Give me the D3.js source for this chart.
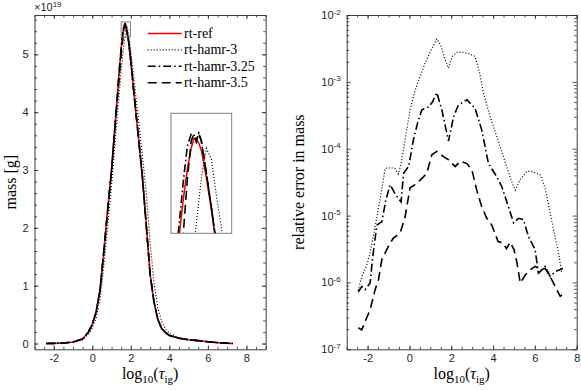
<!DOCTYPE html>
<html>
<head>
<meta charset="utf-8">
<script src="https://cdn.jsdelivr.net/npm/d3@7"></script>
<style>
    body { margin: 0; background: #fff; }
    .tick text { font-family: "Liberation Sans", Arial, sans-serif; font-size: 11px; fill: #262626; }
    .tick line, .domain { stroke: #262626; }
    .serif { font-family: "Liberation Serif", "Times New Roman", serif; fill: #000; }
</style>
</head>
<body>
<svg id="chart" width="581" height="390"></svg>
<script>
// --- data: left panel, mass (units of 1e19 g) vs log10(tau_ig) ---
const tauGrid = [-2.4, -2, -1.5, -1, -0.5, -0.2, 0, 0.2, 0.4, 0.6, 0.8, 1, 1.2, 1.4, 1.5, 1.55, 1.6, 1.63, 1.66, 1.68,
    1.7, 1.72, 1.74, 1.78, 1.82, 1.86, 1.9, 2, 2.2, 2.4, 2.6, 2.8, 3, 3.2, 3.4, 3.6, 3.8, 4, 4.5, 5, 5.5, 6, 6.5, 7, 7.3];
const massRef = [0, 0.003, 0.01, 0.025, 0.08, 0.2, 0.33, 0.55, 0.92, 1.6, 2.32, 3.0, 3.85, 4.72, 5.10, 5.26, 5.38, 5.44, 5.485, 5.505,
    5.505, 5.495, 5.48, 5.42, 5.35, 5.27, 5.18, 4.88, 4.2, 3.55, 2.88, 2.05, 1.2, 0.72, 0.42, 0.26, 0.19, 0.14, 0.09, 0.065, 0.05, 0.03, 0.015, 0.005, 0];
const massHamr3 = [0, 0.002, 0.008, 0.02, 0.065, 0.16, 0.27, 0.45, 0.76, 1.35, 2.05, 2.75, 3.55, 4.35, 4.72, 4.90, 5.05, 5.14, 5.22, 5.27,
    5.32, 5.37, 5.42, 5.484, 5.46, 5.38, 5.31, 5.05, 4.45, 3.85, 3.25, 2.6, 1.75, 1.05, 0.62, 0.38, 0.25, 0.18, 0.10, 0.07, 0.05, 0.03, 0.015, 0.005, 0];
const massHamr325 = [0, 0.003, 0.01, 0.025, 0.08, 0.2, 0.33, 0.55, 0.92, 1.6, 2.32, 3.0, 3.85, 4.74, 5.12, 5.28, 5.42, 5.49, 5.515, 5.515,
    5.498, 5.517, 5.50, 5.43, 5.355, 5.275, 5.185, 4.88, 4.2, 3.55, 2.88, 2.05, 1.2, 0.72, 0.42, 0.26, 0.19, 0.14, 0.09, 0.065, 0.05, 0.03, 0.015, 0.005, 0];
const massHamr35 = [0, 0.003, 0.01, 0.025, 0.08, 0.2, 0.33, 0.55, 0.92, 1.6, 2.32, 3.0, 3.85, 4.62, 5.0, 5.17, 5.31, 5.42, 5.50, 5.515,
    5.50, 5.517, 5.50, 5.43, 5.355, 5.275, 5.185, 4.88, 4.2, 3.55, 2.88, 2.05, 1.2, 0.72, 0.42, 0.26, 0.19, 0.14, 0.09, 0.065, 0.05, 0.03, 0.015, 0.005, 0];

// --- data: right panel, relative error in mass ---
const errTauHamr3 = [-2.45, -2.28, -2.05, -1.88, -1.64, -1.4, -1.16, -0.9, -0.7, -0.53, -0.4, -0.2, 0.03, 0.25, 0.51, 0.75, 0.99, 1.15,
    1.31, 1.5, 1.7, 1.87, 2.05, 2.3, 2.6, 2.9, 3.14, 3.35, 3.54, 3.8, 4.05, 4.34, 4.6, 4.85, 5.06, 5.3, 5.62, 5.9, 6.25, 6.5, 6.73, 6.95, 7.13, 7.29];
const errHamr3 = [7.6e-7, 1.23e-6, 1.78e-6, 2.75e-6, 6.9e-6, 1.78e-5, 5.1e-5, 5.2e-5, 5.1e-5, 4.2e-5, 6.0e-5, 1.41e-4, 3.8e-4, 7.1e-4,
    1.2e-3, 1.9e-3, 2.8e-3, 3.5e-3, 4.4e-3, 3.5e-3, 2.2e-3, 1.6e-3, 2.4e-3, 2.8e-3, 2.75e-3, 2.6e-3, 2.4e-3, 1.4e-3, 6.8e-4, 3.5e-4,
    2.0e-4, 1.07e-4, 6.0e-5, 3.5e-5, 2.4e-5, 3.5e-5, 4.6e-5, 4.5e-5, 4.1e-5, 2.5e-5, 1.1e-5, 5.0e-6, 2.75e-6, 1.38e-6];
const errTauHamr325 = [-2.45, -2.28, -2.12, -1.88, -1.77, -1.56, -1.32, -1.13, -0.92, -0.68, -0.4, -0.28, -0.04, 0.19, 0.4, 0.59, 0.91,
    1.1, 1.31, 1.55, 1.87, 2.11, 2.34, 2.75, 3.14, 3.46, 3.78, 4.18, 4.42, 4.66, 4.98, 5.22, 5.45, 5.69, 6.01, 6.17, 6.25, 6.49, 6.73, 6.97, 7.34];
const errHamr325 = [7.2e-7, 8.7e-7, 7.8e-7, 9.8e-7, 2.2e-6, 7.2e-6, 8.1e-6, 1.7e-5, 2.9e-5, 2.1e-5, 1.6e-5, 4.3e-5, 5.4e-5, 1.35e-4,
    2.5e-4, 3.8e-4, 4.2e-4, 5.0e-4, 6.9e-4, 3.8e-4, 1.3e-4, 3.0e-4, 4.5e-4, 5.4e-4, 4.0e-4, 1.9e-4, 6.0e-5, 3.8e-5, 2.7e-5, 1.6e-5,
    7.8e-6, 9.1e-6, 8.7e-6, 4.9e-6, 3.1e-6, 1.38e-6, 1.45e-6, 1.74e-6, 1.23e-6, 1.45e-6, 1.62e-6];
const errTauHamr35 = [-2.45, -2.28, -2.12, -1.88, -1.64, -1.48, -1.32, -1.0, -0.77, -0.44, -0.21, 0.03, 0.27, 0.51, 0.67, 0.83, 1.07,
    1.31, 1.63, 1.87, 2.19, 2.43, 2.75, 2.99, 3.22, 3.46, 3.7, 3.94, 4.24, 4.48, 4.64, 4.82, 5.0, 5.14, 5.3, 5.54, 5.78, 6.01, 6.25,
    6.49, 6.73, 6.97, 7.21, 7.37];
const errHamr35 = [2.1e-7, 1.95e-7, 2.6e-7, 3.9e-7, 7.8e-7, 1.1e-6, 2.2e-6, 3.5e-6, 4.6e-6, 5.5e-6, 9.5e-6, 2.6e-5, 2.9e-5, 3.4e-5,
    3.8e-5, 4.3e-5, 8.1e-5, 9.1e-5, 7.6e-5, 6.8e-5, 5.4e-5, 6.5e-5, 6.0e-5, 4.8e-5, 2.4e-5, 1.35e-5, 9.1e-6, 7.2e-6, 4.1e-6, 3.9e-6,
    3.2e-6, 4.0e-6, 3.1e-6, 2.0e-6, 9.8e-7, 1.29e-6, 1.55e-6, 1.74e-6, 1.55e-6, 1.62e-6, 1.23e-6, 8.7e-7, 6.2e-7, 6.8e-7];

// tick values
const xMajorTicks = [-2, 0, 2, 4, 6, 8];
const massTicks = [0, 1, 2, 3, 4, 5];
const errTicks = [1e-7, 1e-6, 1e-5, 1e-4, 1e-3, 1e-2];

const seriesNames = ["rt-ref", "rt-hamr-3", "rt-hamr-3.25", "rt-hamr-3.5"];
const seriesStyle = {
    "rt-ref": { color: "#ff0000", width: 1.6, dash: null },
    "rt-hamr-3": { color: "#000", width: 1.2, dash: "1,2" },
    "rt-hamr-3.25": { color: "#000", width: 1.6, dash: "8,3,1.5,3" },
    "rt-hamr-3.5": { color: "#000", width: 1.6, dash: "9,5" },
};

const svg = d3.select("#chart");

// --- helpers ---
function frame(g, x, y, yTicks, xMinor, yMinor, yFormat) {
    const [xl, xr] = x.range();
    const [yb, yt] = y.range();
    const major = 4, minor = 2.5;

    g.append("g").attr("transform", `translate(0,${yb})`)
        .call(d3.axisBottom(x).tickValues(xMajorTicks).tickSize(-major).tickSizeOuter(0).tickPadding(5).tickFormat((d) => String(d)));
    g.append("g").attr("transform", `translate(0,${yt})`)
        .call(d3.axisTop(x).tickValues(xMajorTicks).tickSize(-major).tickSizeOuter(0).tickFormat(""));
    const left = g.append("g").attr("transform", `translate(${xl},0)`)
        .call(d3.axisLeft(y).tickValues(yTicks).tickSize(-major).tickSizeOuter(0).tickPadding(6).tickFormat(yFormat));
    g.append("g").attr("transform", `translate(${xr},0)`)
        .call(d3.axisRight(y).tickValues(yTicks).tickSize(-major).tickSizeOuter(0).tickFormat(""));

    // minor ticks on all four sides
    [d3.axisBottom, d3.axisTop].forEach((mk, i) => {
        g.append("g").attr("transform", `translate(0,${i ? yt : yb})`)
            .call(mk(x).tickValues(xMinor).tickSize(-minor).tickFormat(""))
            .select(".domain").remove();
    });
    [d3.axisLeft, d3.axisRight].forEach((mk, i) => {
        g.append("g").attr("transform", `translate(${i ? xr : xl},0)`)
            .call(mk(y).tickValues(yMinor).tickSize(-minor).tickFormat(""))
            .select(".domain").remove();
    });
    g.selectAll(".domain").attr("stroke-width", 0.9);
    g.selectAll(".tick line").attr("stroke-width", 0.8);
    return left;
}

function xLabel(cx) {
    const t = svg.append("text").attr("class", "serif").attr("x", cx).attr("y", 379)
        .attr("text-anchor", "middle").attr("font-size", "16px");
    t.append("tspan").text("log");
    t.append("tspan").attr("font-size", "11px").attr("dy", 4).text("10");
    t.append("tspan").attr("dy", -4).text("(");
    t.append("tspan").attr("font-style", "italic").text("τ");
    t.append("tspan").attr("font-size", "11px").attr("dy", 4).text("ig");
    t.append("tspan").attr("dy", -4).text(")");
}

// series: array of { name, xs, ys }
function drawCurves(g, x, y, series) {
    series.forEach((s) => {
        const st = seriesStyle[s.name];
        const line = d3.line().x((d, k) => x(s.xs[k])).y((d) => y(d));
        g.append("path").datum(s.ys)
            .attr("fill", "none")
            .attr("stroke", st.color)
            .attr("stroke-width", st.width)
            .attr("stroke-dasharray", st.dash)
            .attr("d", line);
    });
}

// --- left panel ---
const xL = d3.scaleLinear().domain([-3, 9]).range([34.5, 265.7]);
const yL = d3.scaleLinear().domain([-0.1, 5.68]).range([349.3, 15]);
const leftG = svg.append("g");
frame(leftG, xL, yL, massTicks, d3.range(-3, 9.01, 0.5), d3.range(0, 5.61, 0.2), (d) => String(d));

const massSeries = [massRef, massHamr3, massHamr325, massHamr35]
    .map((ys, i) => ({ name: seriesNames[i], xs: tauGrid, ys }));
drawCurves(leftG.append("g"), xL, yL, massSeries);

// x 10^19 exponent label
const expo = svg.append("text").attr("x", 34).attr("y", 11)
    .attr("font-family", "Liberation Sans, Arial, sans-serif").attr("font-size", "11px").attr("fill", "#262626");
expo.append("tspan").text("×10");
expo.append("tspan").attr("font-size", "8px").attr("dy", -4).text("19");

svg.append("text").attr("class", "serif").attr("font-size", "16px")
    .attr("transform", `translate(16,${(15 + 349.3) / 2}) rotate(-90)`)
    .attr("text-anchor", "middle").text("mass [g]");
xLabel((34.5 + 265.7) / 2);

// zoom box on the peak + inset
const zoomX = [1.5, 1.98], zoomY = [5.30, 5.56];
leftG.append("rect")
    .attr("x", xL(zoomX[0])).attr("y", yL(zoomY[1]))
    .attr("width", xL(zoomX[1]) - xL(zoomX[0])).attr("height", yL(zoomY[0]) - yL(zoomY[1]))
    .attr("fill", "none").attr("stroke", "#808080").attr("stroke-width", 1);

const inset = { x: 171, y: 113.3, w: 60.7, h: 120 };
const xI = d3.scaleLinear().domain(zoomX).range([inset.x, inset.x + inset.w]);
const yI = d3.scaleLinear().domain(zoomY).range([inset.y + inset.h, inset.y]);
svg.append("clipPath").attr("id", "insetClip").append("rect")
    .attr("x", inset.x).attr("y", inset.y).attr("width", inset.w).attr("height", inset.h);
svg.append("rect").attr("x", inset.x).attr("y", inset.y).attr("width", inset.w).attr("height", inset.h)
    .attr("fill", "#fff");
drawCurves(svg.append("g").attr("clip-path", "url(#insetClip)"), xI, yI, massSeries);
svg.append("rect").attr("x", inset.x).attr("y", inset.y).attr("width", inset.w).attr("height", inset.h)
    .attr("fill", "none").attr("stroke", "#808080").attr("stroke-width", 1);

// legend
const legend = svg.append("g");
seriesNames.forEach((name, i) => {
    const st = seriesStyle[name];
    const ly = 33.5 + i * 16.4;
    legend.append("line").attr("x1", 147.7).attr("x2", 181.7).attr("y1", ly).attr("y2", ly)
        .attr("stroke", st.color).attr("stroke-width", st.width).attr("stroke-dasharray", st.dash);
    legend.append("text").attr("class", "serif").attr("x", 184).attr("y", ly + 4.5)
        .attr("font-size", "14px").text(name);
});

// --- right panel ---
const xR = d3.scaleLinear().domain([-3, 8]).range([346.7, 576.7]);
const yR = d3.scaleLog().domain([1e-7, 1e-2]).range([349.3, 15]);
const errMinor = [];
errTicks.slice(0, -1).forEach((dec) => [2, 3, 4, 5, 6, 7, 8, 9].forEach((m) => errMinor.push(dec * m)));
const rightG = svg.append("g");
const rLeft = frame(rightG, xR, yR, errTicks, d3.range(-3, 8.01, 0.5), errMinor, () => "10");
rLeft.selectAll(".tick text").each(function (d) {
    d3.select(this).append("tspan").attr("font-size", "8px").attr("dy", "-0.55em")
        .text(String(Math.round(Math.log10(d))));
});

drawCurves(rightG.append("g"), xR, yR, [
    { name: "rt-hamr-3", xs: errTauHamr3, ys: errHamr3 },
    { name: "rt-hamr-3.25", xs: errTauHamr325, ys: errHamr325 },
    { name: "rt-hamr-3.5", xs: errTauHamr35, ys: errHamr35 },
]);

svg.append("text").attr("class", "serif").attr("font-size", "16px")
    .attr("transform", `translate(304,${(15 + 349.3) / 2}) rotate(-90)`)
    .attr("text-anchor", "middle").text("relative error in mass");
xLabel((346.7 + 576.7) / 2);
</script>
</body>
</html>
